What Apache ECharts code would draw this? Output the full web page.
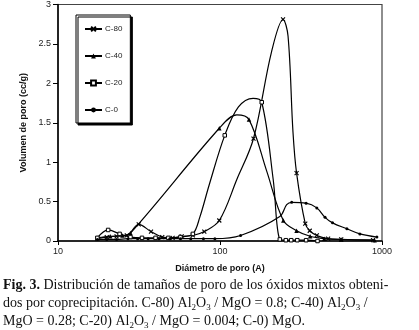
<!DOCTYPE html>
<html>
<head>
<meta charset="utf-8">
<script src="https://cdn.jsdelivr.net/npm/echarts@6/dist/echarts.min.js"></script>
<style>
  html, body { margin: 0; padding: 0; background: #fff; }
  #chart { width: 419px; height: 330px; }
</style>
</head>
<body>
<div id="chart"></div>
<script>
// pore diameter (A) vs pore volume (cc/g); "Marks" = points with a marker,
// "Path" = extra points read along the curve where no marker is drawn
const c80Marks = [[17.5, 0.03], [20, 0.05], [23, 0.06], [26.6, 0.07], [31.5, 0.21], [37.5, 0.12], [44, 0.05], [51, 0.04], [58, 0.06], [68, 0.07], [80, 0.12], [99, 0.26], [161, 1.30], [245, 2.81], [297, 0.86], [336, 0.22], [358, 0.13], [396, 0.07], [465, 0.03], [560, 0.02], [880, 0.01]];
const c80Path = [[127, 0.78], [208, 2.40], [263, 2.6], [282, 1.39]];

const c40Marks = [[17.5, 0.04], [21, 0.06], [25, 0.07], [28, 0.1], [99, 1.43], [151, 1.54], [246, 0.26], [297, 0.13], [360, 0.06], [440, 0.03], [560, 0.02], [900, 0.01]];
const c40Path = [[127, 1.6], [194, 0.89]];

const c20Marks = [[17.5, 0.04], [20.4, 0.14], [24, 0.09], [28, 0.05], [33, 0.04], [40, 0.04], [48, 0.04], [57, 0.05], [68, 0.09], [107, 1.34], [181, 1.76], [234, 0.02], [255, 0.01], [275, 0.01], [300, 0.01], [340, 0.01], [400, 0.0]];
const c20Path = [[75, 0.3], [86, 0.72], [130, 1.7], [160, 1.81], [213, 0.78]];

const c0Marks = [[17.5, 0.02], [20, 0.02], [23, 0.02], [27, 0.03], [31, 0.03], [36, 0.03], [42, 0.03], [49, 0.03], [57, 0.03], [66, 0.03], [79, 0.03], [93, 0.03], [134, 0.07], [277, 0.49], [340, 0.48], [396, 0.42], [445, 0.30], [495, 0.23], [607, 0.155], [730, 0.09], [930, 0.05]];
const c0Path = [[234, 0.31], [258, 0.46]];

const seriesNames = ['C-80', 'C-40', 'C-20', 'C-0'];
const xTicks = [10, 100, 1000];
const yTicks = [0, 0.5, 1, 1.5, 2, 2.5, 3];

function build(marks, path) {
  const pts = marks.map(p => ({ value: p }))
    .concat(path.map(p => ({ value: p, symbol: 'none' })));
  return pts.sort((a, b) => a.value[0] - b.value[0]);
}

const chart = echarts.init(document.getElementById('chart'), null, { renderer: 'canvas' });

const lineStyle = { color: '#000', width: 1.2 };
const base = { type: 'line', smooth: 0.35, lineStyle, animation: false, z: 3 };

chart.setOption({
  backgroundColor: '#fff',
  textStyle: { fontFamily: 'Liberation Sans, Arial, sans-serif' },
  grid: { left: 58, right: 37, top: 3, bottom: 89, show: true, borderColor: '#444', borderWidth: 1.2 },
  legend: {
    orient: 'vertical',
    left: 76, top: 15,
    padding: [10, 8, 9, 8],
    itemGap: 19, itemWidth: 17, itemHeight: 6,
    backgroundColor: '#fff',
    borderColor: '#000', borderWidth: 1,
    shadowColor: '#000', shadowOffsetX: 2, shadowOffsetY: 2, shadowBlur: 0,
    textStyle: { fontSize: 8, color: '#222', padding: [0, 0, 0, -2] },
    data: seriesNames
  },
  xAxis: {
    type: 'log', logBase: 10, min: xTicks[0], max: xTicks[2],
    name: 'Diámetro de poro (A)', nameLocation: 'middle', nameGap: 23,
    nameTextStyle: { fontSize: 9, fontWeight: 'bold', color: '#111' },
    axisLine: { lineStyle: { color: '#000', width: 1.5 } },
    axisTick: { show: true, length: 4, lineStyle: { color: '#000' } },
    minorTick: { show: false },
    axisLabel: { fontSize: 9, color: '#222', margin: 6, formatter: v => String(Math.round(v)) },
    splitLine: { show: false }
  },
  yAxis: {
    type: 'value', min: yTicks[0], max: yTicks[yTicks.length - 1], interval: 0.5,
    name: 'Volumen de poro (cc/g)', nameLocation: 'middle', nameGap: 27,
    nameTextStyle: { fontSize: 9, fontWeight: 'bold', color: '#111' },
    axisLine: { show: true, lineStyle: { color: '#000', width: 1.5 } },
    axisTick: { show: true, length: 5, lineStyle: { color: '#000' } },
    axisLabel: { fontSize: 9, color: '#222', margin: 7 },
    splitLine: { show: false }
  },
  series: [
    Object.assign({}, base, {
      name: 'C-80', data: build(c80Marks, c80Path),
      symbol: 'path://M0,0L10,10M10,0L0,10', symbolSize: 4,
      itemStyle: { color: '#000', borderColor: '#000', borderWidth: 1.1 }
    }),
    Object.assign({}, base, {
      name: 'C-40', data: build(c40Marks, c40Path),
      symbol: 'triangle', symbolSize: 4.5,
      itemStyle: { color: '#000' }
    }),
    Object.assign({}, base, {
      name: 'C-20', data: build(c20Marks, c20Path),
      symbol: 'rect', symbolSize: 3.5,
      itemStyle: { color: '#fff', borderColor: '#000', borderWidth: 1 }
    }),
    Object.assign({}, base, {
      name: 'C-0', data: build(c0Marks, c0Path),
      symbol: 'circle', symbolSize: 3,
      itemStyle: { color: '#000' }
    })
  ],
  graphic: [{
    type: 'text', left: 3, top: 276,
    style: {
      text: '{b|Fig. 3.} Distribución de tamaños de poro de los óxidos mixtos obteni-\n' +
            'dos por coprecipitación. C-80) Al{s|2}O{s|3} / MgO = 0.8; C-40) Al{s|2}O{s|3} /\n' +
            'MgO = 0.28; C-20) Al{s|2}O{s|3} / MgO = 0.004; C-0) MgO.',
      font: '14px "Liberation Serif", "Times New Roman", serif',
      fill: '#111',
      lineHeight: 18,
      rich: {
        b: { fontWeight: 'bold', fontSize: 14, fontFamily: 'Liberation Serif', lineHeight: 18 },
        s: { fontSize: 9, fontFamily: 'Liberation Serif', verticalAlign: 'bottom', lineHeight: 14 }
      }
    }
  }]
});
</script>
</body>
</html>
